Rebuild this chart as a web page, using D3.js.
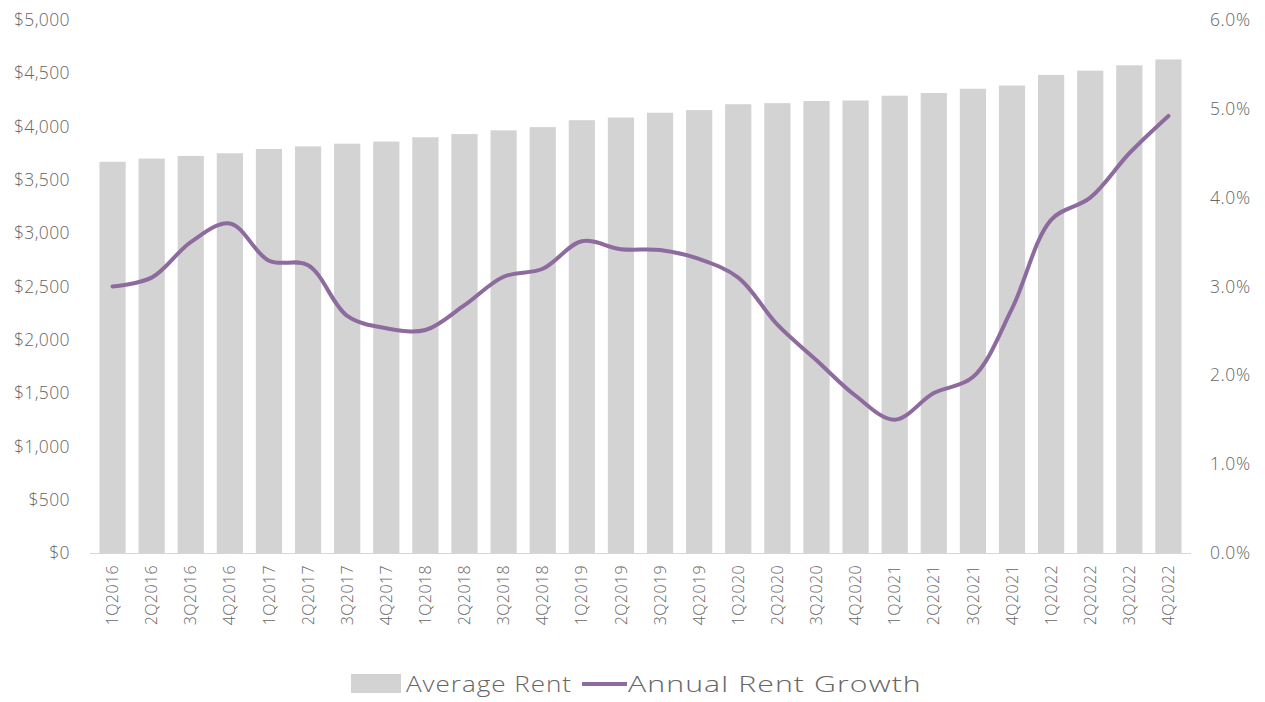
<!DOCTYPE html>
<html>
<head>
<meta charset="utf-8">
<script src="https://cdn.jsdelivr.net/npm/d3@7"></script>
<style>
  html, body { margin: 0; padding: 0; background: #fff; }
  svg text { font-family: "Open Sans", Lato, sans-serif; font-weight: 300; fill: #666; }
</style>
</head>
<body>
<svg id="chart" width="1265" height="702"></svg>
<script>
// Quarterly periods
const quarters = [
  "1Q2016","2Q2016","3Q2016","4Q2016",
  "1Q2017","2Q2017","3Q2017","4Q2017",
  "1Q2018","2Q2018","3Q2018","4Q2018",
  "1Q2019","2Q2019","3Q2019","4Q2019",
  "1Q2020","2Q2020","3Q2020","4Q2020",
  "1Q2021","2Q2021","3Q2021","4Q2021",
  "1Q2022","2Q2022","3Q2022","4Q2022"
];

// Average monthly rent ($)
const averageRent = [
  3670, 3700, 3725, 3750,
  3790, 3815, 3840, 3860,
  3900, 3930, 3965, 3995,
  4060, 4085, 4130, 4155,
  4210, 4220, 4240, 4245,
  4290, 4315, 4355, 4385,
  4485, 4525, 4575, 4630
];

// Annual rent growth (%)
const rentGrowth = [
  3.00, 3.10, 3.50, 3.71,
  3.29, 3.24, 2.67, 2.53,
  2.51, 2.79, 3.11, 3.20,
  3.51, 3.42, 3.41, 3.31,
  3.10, 2.57, 2.17, 1.77,
  1.50, 1.80, 1.98, 2.75,
  3.75, 4.00, 4.50, 4.92
];

const rentTicks = [0, 500, 1000, 1500, 2000, 2500, 3000, 3500, 4000, 4500, 5000];
const growthTicks = [0, 1, 2, 3, 4, 5, 6];

const svg = d3.select("#chart");

const plot = { left: 93, right: 1188, top: 20, bottom: 553 };

const x = d3.scaleBand()
  .domain(quarters)
  .range([plot.left, plot.right])
  .paddingInner(0.33)
  .paddingOuter(0.165);

const yRent = d3.scaleLinear().domain([0, 5000]).range([plot.bottom, plot.top]);
const yGrowth = d3.scaleLinear().domain([0, 6]).range([plot.bottom, plot.top]);

// Bars: average rent
svg.append("g")
  .selectAll("rect")
  .data(quarters)
  .join("rect")
  .attr("x", d => x(d))
  .attr("width", x.bandwidth())
  .attr("y", (d, i) => yRent(averageRent[i]))
  .attr("height", (d, i) => yRent(0) - yRent(averageRent[i]))
  .attr("fill", "#d3d3d3");

// Baseline
svg.append("line")
  .attr("x1", 90).attr("x2", 1191)
  .attr("y1", plot.bottom + 0.5).attr("y2", plot.bottom + 0.5)
  .attr("stroke", "#d6d6d6").attr("stroke-width", 1);

// Left axis (rent)
const leftAxis = svg.append("g")
  .attr("transform", `translate(${70},0)`)
  .call(d3.axisLeft(yRent).tickValues(rentTicks).tickSize(0).tickPadding(0)
    .tickFormat(d => "$" + d3.format(",")(d)));
leftAxis.select(".domain").remove();
leftAxis.selectAll("text")
  .style("font-size", "17.5px")
  .style("letter-spacing", "0.4px")
  .attr("dy", "0.32em");

// Right axis (growth)
const rightAxis = svg.append("g")
  .attr("transform", `translate(${1210},0)`)
  .call(d3.axisRight(yGrowth).tickValues(growthTicks).tickSize(0).tickPadding(0)
    .tickFormat(d => d3.format(".1f")(d) + "%"));
rightAxis.select(".domain").remove();
rightAxis.selectAll("text")
  .style("font-size", "17.5px")
  .style("letter-spacing", "0.6px")
  .attr("dy", "0.32em");

// Bottom axis (quarters, rotated)
const bottomAxis = svg.append("g")
  .attr("transform", `translate(0,${plot.bottom})`)
  .call(d3.axisBottom(x).tickSize(0).tickPadding(0));
bottomAxis.select(".domain").remove();
bottomAxis.selectAll("text")
  .style("font-size", "16px")
  .style("letter-spacing", "0.4px")
  .attr("text-anchor", "end")
  .attr("transform", "rotate(-90)")
  .attr("x", -12)
  .attr("y", 0)
  .attr("dy", "0.35em");

// Line: annual rent growth
const line = d3.line()
  .x((d, i) => x(quarters[i]) + x.bandwidth() / 2)
  .y(d => yGrowth(d))
  .curve(d3.curveCatmullRom.alpha(0.5));

svg.append("path")
  .datum(rentGrowth)
  .attr("d", line)
  .attr("fill", "none")
  .attr("stroke", "#8d6b9f")
  .attr("stroke-width", 4)
  .attr("stroke-linecap", "round");

// Legend: wide labels, stretched horizontally to the given width
function legendLabel(g, x0, width, label) {
  const t = g.append("text")
    .attr("x", 0).attr("y", 0).attr("dy", "0.35em")
    .style("font-size", "22px")
    .style("letter-spacing", "0.8px")
    .text(label);
  const natural = t.node().getComputedTextLength();
  t.attr("transform", `translate(${x0},684) scale(${width / natural},1)`);
}

const legend = svg.append("g");
legend.append("rect")
  .attr("x", 351).attr("y", 674).attr("width", 50).attr("height", 19)
  .attr("fill", "#d3d3d3");
legendLabel(legend, 406, 166, "Average Rent");
legend.append("line")
  .attr("x1", 582).attr("x2", 627).attr("y1", 684).attr("y2", 684)
  .attr("stroke", "#8d6b9f").attr("stroke-width", 4);
legendLabel(legend, 628, 294, "Annual Rent Growth");
</script>
</body>
</html>
